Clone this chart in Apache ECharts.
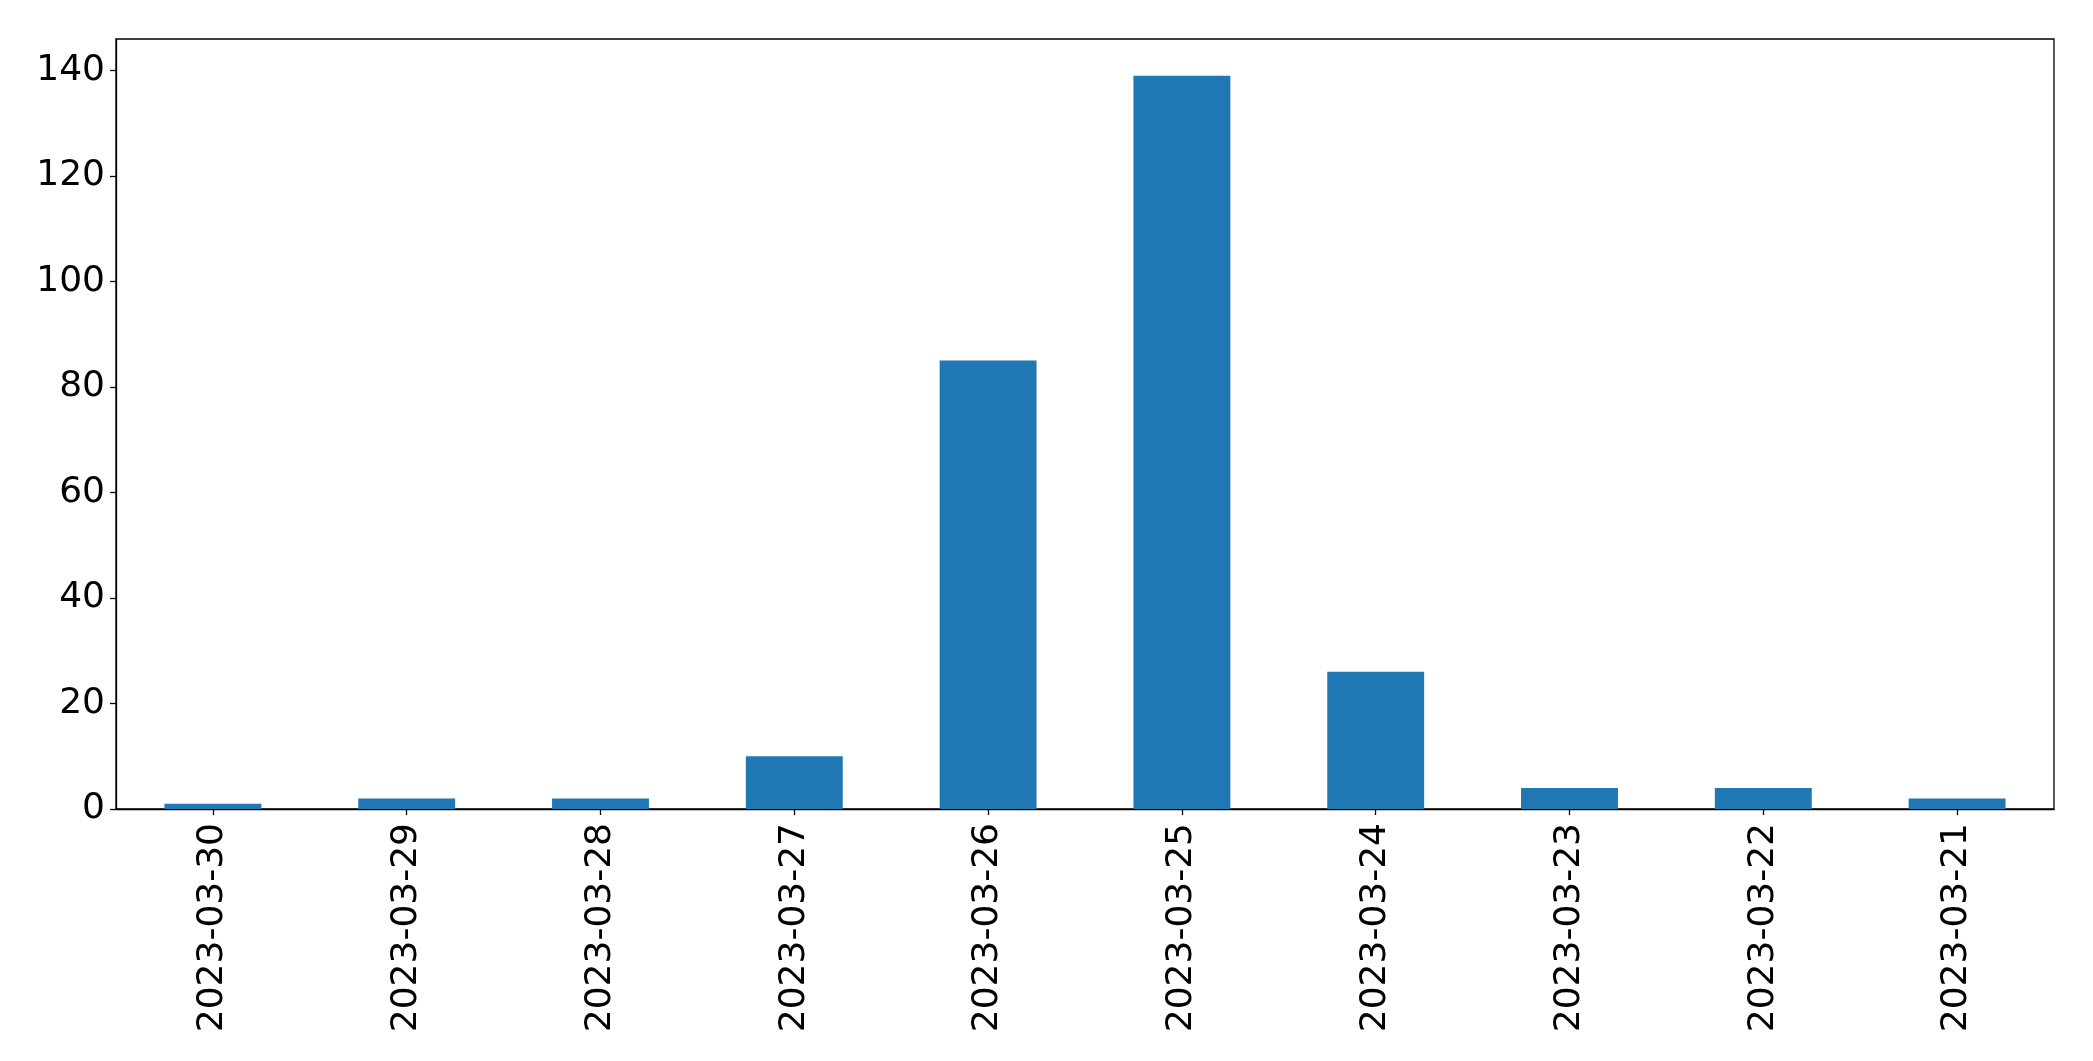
<!DOCTYPE html>
<html>
<head>
<meta charset="utf-8">
<script src="https://cdn.jsdelivr.net/npm/echarts@6/dist/echarts.min.js"></script>
<style>
html,body{margin:0;padding:0;background:#fff;}
#chart{width:2093px;height:1061px;}
</style>
</head>
<body>
<div id="chart"></div>
<script>
const categories = ['2023-03-30','2023-03-29','2023-03-28','2023-03-27','2023-03-26','2023-03-25','2023-03-24','2023-03-23','2023-03-22','2023-03-21'];
const counts = [1, 2, 2, 10, 85, 139, 26, 4, 4, 2];
const yTicks = [0, 20, 40, 60, 80, 100, 120, 140];
const yMax = 145.95;

const chart = echarts.init(document.getElementById('chart'), null, {renderer: 'canvas'});
const font = {fontFamily: 'DejaVu Sans', fontSize: 36, color: '#000'};
chart.setOption({
  animation: false,
  backgroundColor: '#fff',
  grid: {left: 116, top: 39, right: 39, bottom: 252, show: true, borderColor: '#000', borderWidth: 1.3, containLabel: false},
  xAxis: {
    type: 'category',
    data: categories,
    boundaryGap: true,
    axisLine: {show: true, lineStyle: {color: '#000', width: 1.3}},
    axisTick: {show: true, alignWithLabel: true, length: 6, lineStyle: {color: '#000', width: 1.3}},
    axisLabel: Object.assign({rotate: 90, margin: 14, interval: 0}, font),
    splitLine: {show: false}
  },
  yAxis: {
    type: 'value',
    min: 0,
    max: yMax,
    interval: 20,
    axisLine: {show: true, lineStyle: {color: '#000', width: 1.3}},
    axisTick: {show: true, length: 6, lineStyle: {color: '#000', width: 1.3}, customValues: yTicks},
    axisLabel: Object.assign({margin: 11, customValues: yTicks}, font),
    splitLine: {show: false}
  },
  series: [{
    type: 'bar',
    data: counts,
    barWidth: '50%',
    itemStyle: {color: '#1f77b4'}
  }]
});
</script>
</body>
</html>
